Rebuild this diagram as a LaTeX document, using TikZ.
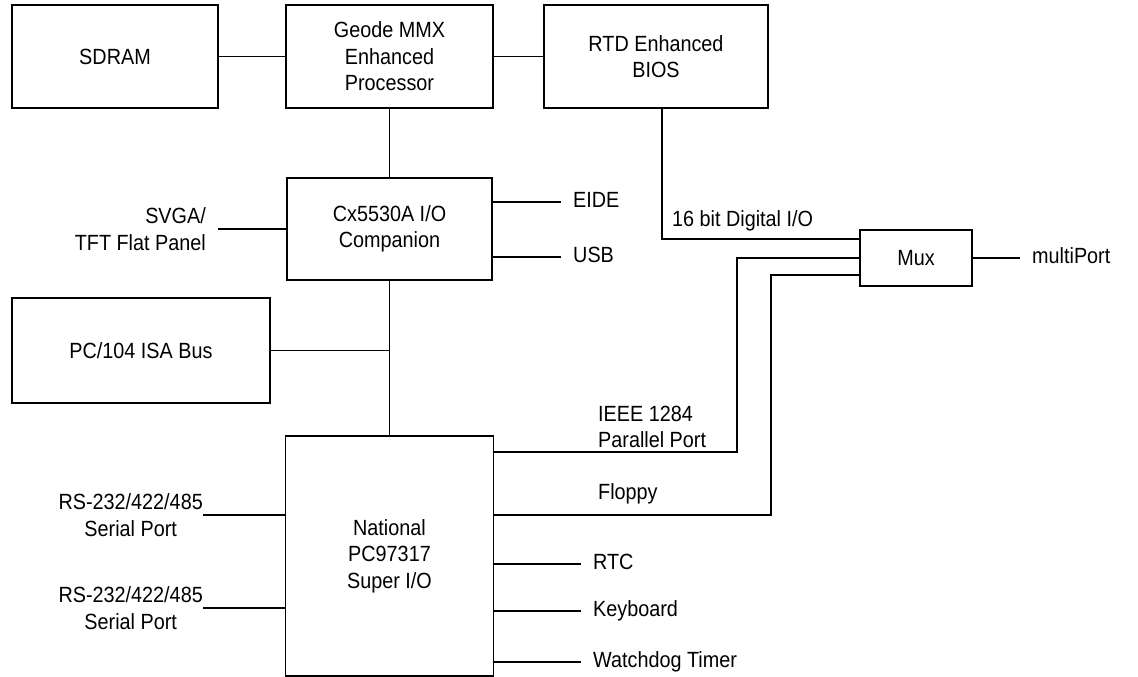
\documentclass[tikz,border=0pt]{standalone}
\usepackage{fontspec}
\setmainfont{Liberation Sans}[FakeStretch=0.9]
\usetikzlibrary{positioning}

\begin{document}
\begin{tikzpicture}[
  x=1pt, y=-1pt,
  font=\fontsize{22}{26.5}\selectfont,
  box/.style  = {draw, line width=1.2pt, align=center, inner sep=0pt},
  lbl/.style  = {inner xsep=12pt, inner ysep=0pt, text height=16pt, text depth=5pt},
  wire/.style = {line width=1.2pt},
]
\useasboundingbox (0,0) rectangle (1138,677);
% top row
\node[box, minimum width=206pt, minimum height=103pt] (sdram) at (115,56.5) {SDRAM};
\node[box, minimum width=207pt, minimum height=103pt] (geode) at (389.5,56.5) {Geode MMX\\ Enhanced\\ Processor};
\node[box, minimum width=224pt, minimum height=103pt] (bios) at (656,56.5) {RTD Enhanced\\ BIOS};
% companion and bus
\node[box, minimum width=205pt, minimum height=102pt] (cx) at (389.5,229) {Cx5530A I/O\\ Companion};
\node[box, minimum width=258pt, minimum height=105pt] (isa) at (141,350.5) {PC/104 ISA Bus};
\node[box, minimum width=208pt, minimum height=240pt] (sio) at (389.5,556) {National\\ PC97317\\ Super I/O};
\node[box, minimum width=112pt, minimum height=56pt] (mux) at (916,258) {Mux};
% mux ports and bends
\coordinate (muxa) at ([yshift=19pt]mux.west);
\coordinate (muxc) at ([yshift=-17pt]mux.west);
\coordinate (parbend) at (737,0);
\coordinate (flopbend) at (771,0);
% labels
\node[lbl, anchor=west] (eide) at (561,202) {EIDE};
\node[lbl, anchor=west] (usb) at (561,257) {USB};
\node[lbl, anchor=east, align=right, text height=, text depth=] (svga) at (218,229) {SVGA/\\ TFT Flat Panel};
\node[lbl, anchor=west] (dio) at (660,221) {16 bit Digital I/O};
\node[lbl, anchor=west] (mport) at (1020,258) {multiPort};
\node[lbl, anchor=west, align=left, text height=, text depth=] (ieee) at (586,427) {IEEE 1284\\ Parallel Port};
\node[lbl, anchor=west] (flop) at (586,494) {Floppy};
\node[lbl, anchor=west] (rtc) at (581,564) {RTC};
\node[lbl, anchor=west] (kbd) at (581,611) {Keyboard};
\node[lbl, anchor=west] (wdt) at (581,662) {Watchdog Timer};
\node[lbl, anchor=east, align=center, inner xsep=0pt, text height=, text depth=] (ser1) at (203,515) {RS-232/422/485\\ Serial Port};
\node[lbl, anchor=east, align=center, inner xsep=0pt, text height=, text depth=] (ser2) at (203,608) {RS-232/422/485\\ Serial Port};
% edges
\draw[wire] (sdram) -- (geode);
\draw[wire] (geode) -- (bios);
\draw[wire] (geode) -- (cx);
\draw[wire] (cx.south) -- (sio.north);
\draw[wire] (isa.east) -- (isa.east -| cx.south);
\draw[wire] (svga.east) -- (svga.east -| cx.west);
\draw[wire] (eide.west -| cx.east) -- (eide.west);
\draw[wire] (usb.west -| cx.east) -- (usb.west);
\draw[wire] ([xshift=6pt]bios.south) |- (muxa);
\draw[wire] ([yshift=104pt]sio.east) -| (parbend |- mux.west) -- (mux.west);
\draw[wire] ([yshift=41pt]sio.east) -| (flopbend |- muxc) -- (muxc);
\draw[wire] (mux.east) -- (mux.east -| mport.west);
\draw[wire] (rtc.west -| sio.east) -- (rtc.west);
\draw[wire] (kbd.west -| sio.east) -- (kbd.west);
\draw[wire] (wdt.west -| sio.east) -- (wdt.west);
\draw[wire] (ser1.east) -- (ser1.east -| sio.west);
\draw[wire] (ser2.east) -- (ser2.east -| sio.west);
\end{tikzpicture}
\end{document}
